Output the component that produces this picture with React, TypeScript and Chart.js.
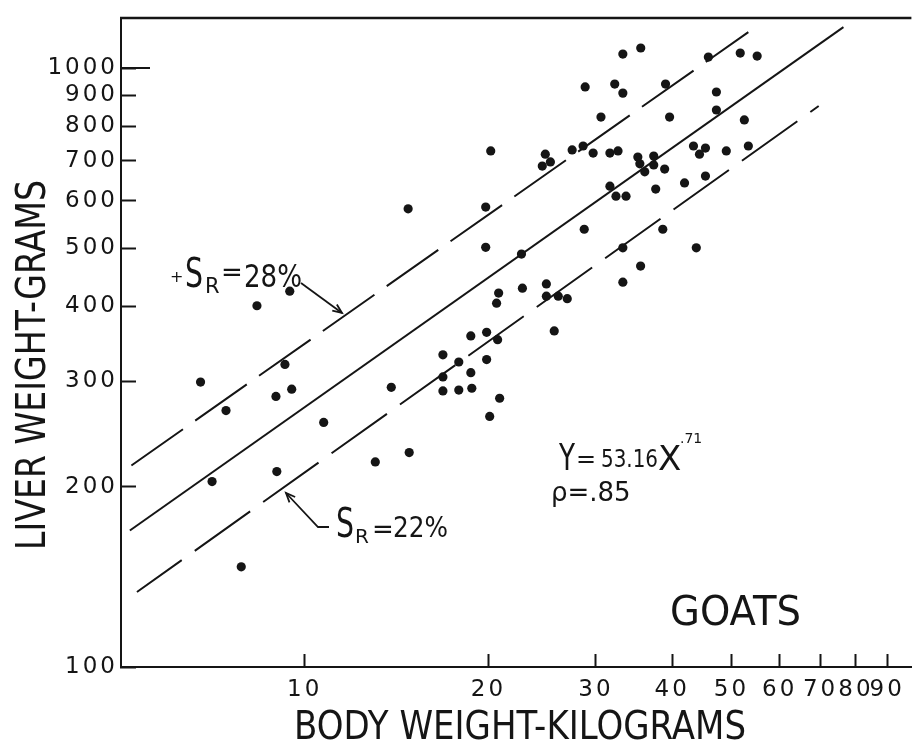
import React, { useEffect, useRef } from "react";
import { Chart, registerables } from "chart.js";

Chart.register(...registerables);

// ---- data (goats: body weight kg vs liver weight g) ----
const bodyWeightKg = [
  6.75, 7.43, 8.35, 9.45, 9.28, 8.97, 9.52, 10.74, 7.05, 9.0, 7.87, 13.86, 13.05, 14.83, 14.77,
  16.84, 16.84, 16.84, 17.88, 17.88, 18.71, 18.78, 18.71, 19.86, 20.7, 19.86, 20.86, 20.09,
  19.79, 19.79, 20.17, 22.65, 20.78, 20.62, 22.73, 24.88, 24.88, 26.02, 26.92, 25.63,
  33.2, 35.52, 45.84, 51.7, 55.1, 28.8, 32.2, 33.2, 39.0, 47.25, 30.57, 39.6, 47.25, 52.5,
  24.78, 24.5, 25.26, 27.42, 28.58, 29.68, 31.62, 32.6, 35.13, 35.4, 36.06, 37.3, 37.3, 38.87,
  37.58, 41.9, 43.34, 44.33, 45.34, 49.05, 53.3, 45.34, 31.62, 32.35, 33.6, 28.7, 38.6, 33.2,
  43.8, 35.5, 33.2,
];
const liverWeightG = [
  299, 268, 401, 424, 320, 283, 291, 256, 204, 212, 147, 293, 220, 228, 582,
  332, 305, 289, 323, 290, 310, 292, 357, 362, 352, 326, 281, 262,
  586, 502, 727, 489, 421, 405, 429, 436, 416, 416, 412, 364,
  1055, 1080, 1043, 1059, 1047, 930, 940, 908, 940, 912, 828, 828, 851, 819,
  718, 686, 697, 730, 741, 721, 721, 727, 710, 692, 671, 713, 689, 678,
  628, 643, 741, 718, 735, 727, 741, 660, 635, 611, 611, 538, 538, 501,
  501, 467, 439,
];

// regression line Y = 53.16 X^.71 and the two S_R bands (end points)
const fitLineX = [5.17, 76.3];
const fitLineY = [169, 1170];
const upperBandX = [5.2, 53.3];
const upperBandY = [217, 1148];
const lowerBandX = [5.31, 69.5];
const lowerBandY = [133.4, 864];

const xTickValues = [10, 20, 30, 40, 50, 60, 70, 80, 90];
const yTickValues = [100, 200, 300, 400, 500, 600, 700, 800, 900, 1000];

const X_MIN = 5;
const X_MAX = 98.6;
const Y_MIN = 100;
const Y_MAX = 1212;

const INK = "#151515";
const FONT = '"DejaVu Sans", "Liberation Sans", sans-serif';

const toXY = (xs: number[], ys: number[]) => xs.map((x, i) => ({ x, y: ys[i] }));

function drawText(
  ctx: CanvasRenderingContext2D,
  s: string,
  x: number,
  y: number,
  size: number,
  maxWidth?: number,
  align: CanvasTextAlign = "left"
) {
  ctx.font = `${size}px ${FONT}`;
  ctx.textAlign = align;
  ctx.textBaseline = "alphabetic";
  if (maxWidth) ctx.fillText(s, x, y, maxWidth);
  else ctx.fillText(s, x, y);
}

function drawArrow(ctx: CanvasRenderingContext2D, pts: number[][]) {
  ctx.beginPath();
  ctx.moveTo(pts[0][0], pts[0][1]);
  for (let i = 1; i < pts.length; i++) ctx.lineTo(pts[i][0], pts[i][1]);
  ctx.stroke();
  const [px, py] = pts[pts.length - 2];
  const [tx, ty] = pts[pts.length - 1];
  const a = Math.atan2(ty - py, tx - px);
  const L = 10;
  ctx.beginPath();
  ctx.moveTo(tx - L * Math.cos(a - 0.4), ty - L * Math.sin(a - 0.4));
  ctx.lineTo(tx, ty);
  ctx.lineTo(tx - L * Math.cos(a + 0.4), ty - L * Math.sin(a + 0.4));
  ctx.stroke();
}

const spacingPlugin = {
  id: "tickLetterSpacing",
  beforeDraw(chart: any) {
    try {
      (chart.ctx as any).letterSpacing = "3px";
    } catch (e) {
      /* not supported */
    }
  },
};

const annotationPlugin = {
  id: "goatAnnotations",
  afterDraw(chart: any) {
    const { ctx, chartArea, scales } = chart;
    try {
      (ctx as any).letterSpacing = "0px";
    } catch (e) {
      /* not supported */
    }
    ctx.save();
    ctx.strokeStyle = INK;
    ctx.fillStyle = INK;
    ctx.lineCap = "butt";

    // top frame line
    ctx.lineWidth = 2.5;
    ctx.beginPath();
    ctx.moveTo(chartArea.left - 1, chartArea.top);
    ctx.lineTo(chartArea.right, chartArea.top);
    ctx.stroke();

    // longer major tick at 1000
    const y1000 = scales.y.getPixelForValue(1000);
    ctx.lineWidth = 2;
    ctx.beginPath();
    ctx.moveTo(chartArea.left, y1000);
    ctx.lineTo(chartArea.left + 29, y1000);
    ctx.stroke();

    // axis titles
    drawText(ctx, "BODY WEIGHT-KILOGRAMS", 520, 739, 39, 452, "center");
    ctx.save();
    ctx.translate(45, 365);
    ctx.rotate(-Math.PI / 2);
    drawText(ctx, "LIVER WEIGHT-GRAMS", 0, 0, 40, 370, "center");
    ctx.restore();

    // + S_R = 28%
    drawText(ctx, "+", 170, 282, 16);
    drawText(ctx, "S", 185, 287, 40, 18);
    drawText(ctx, "R", 205, 293, 21);
    drawText(ctx, "=", 221, 281, 26);
    drawText(ctx, "28%", 244, 287, 32, 58);
    ctx.lineWidth = 1.8;
    drawArrow(ctx, [
      [301, 283],
      [342, 313],
    ]);

    // S_R = 22%
    drawText(ctx, "S", 336, 537, 40, 18);
    drawText(ctx, "R", 355, 543, 20);
    drawText(ctx, "=", 372, 538, 26);
    drawText(ctx, "22%", 393, 537, 28, 55);
    drawArrow(ctx, [
      [329, 527],
      [318, 527],
      [286, 493],
    ]);

    // regression equation
    drawText(ctx, "Y", 559, 470, 37, 16);
    drawText(ctx, "=", 576, 467, 24);
    drawText(ctx, "53.16", 601, 467, 24, 57);
    drawText(ctx, "X", 658, 470, 34, 24);
    drawText(ctx, ".71", 680, 443, 14);
    drawText(ctx, "\u03C1=.85", 551, 501, 26, 82);

    // species label
    drawText(ctx, "GOATS", 670, 625, 40, 131);

    ctx.restore();
  },
};

export default function App() {
  const ref = useRef<HTMLCanvasElement | null>(null);

  useEffect(() => {
    if (!ref.current) return;
    const chart = new Chart(ref.current, {
      type: "scatter",
      data: {
        datasets: [
          {
            label: "Goats",
            data: toXY(bodyWeightKg, liverWeightG),
            pointRadius: 4.6,
            pointBackgroundColor: INK,
            pointBorderWidth: 0,
            showLine: false,
          },
          {
            label: "Y = 53.16 X^.71",
            data: toXY(fitLineX, fitLineY),
            showLine: true,
            borderColor: INK,
            borderWidth: 2,
            pointRadius: 0,
          },
          {
            label: "S_R = 28%",
            data: toXY(upperBandX, upperBandY),
            showLine: true,
            borderColor: INK,
            borderWidth: 2,
            borderDash: [63, 15],
            pointRadius: 0,
          },
          {
            label: "S_R = 22%",
            data: toXY(lowerBandX, lowerBandY),
            showLine: true,
            borderColor: INK,
            borderWidth: 2,
            borderDash: [68, 16],
            borderDashOffset: 13,
            pointRadius: 0,
          },
        ],
      },
      options: {
        animation: false,
        responsive: false,
        devicePixelRatio: 1,
        layout: { padding: { top: 18, left: 0, right: 0, bottom: 0 } },
        plugins: {
          legend: { display: false },
          tooltip: { enabled: false },
        },
        scales: {
          x: {
            type: "logarithmic",
            position: "bottom",
            min: X_MIN,
            max: X_MAX,
            afterBuildTicks: (s: any) => {
              s.ticks = xTickValues.map((v) => ({ value: v }));
            },
            afterFit: (s: any) => {
              s.height = 74;
              s.paddingLeft = 0;
              s.paddingRight = 0;
            },
            ticks: {
              autoSkip: false,
              maxRotation: 0,
              minRotation: 0,
              padding: 22,
              color: INK,
              font: { family: FONT, size: 23 },
              callback: (v: any) => String(v),
            },
            grid: {
              drawOnChartArea: false,
              drawTicks: true,
              tickLength: -13,
              tickColor: INK,
              tickWidth: 2,
            },
            border: { display: true, color: INK, width: 2 },
          },
          y: {
            type: "logarithmic",
            position: "left",
            min: Y_MIN,
            max: Y_MAX,
            afterBuildTicks: (s: any) => {
              s.ticks = yTickValues.map((v) => ({ value: v }));
            },
            afterFit: (s: any) => {
              s.width = 121;
              s.paddingTop = 0;
              s.paddingBottom = 0;
            },
            ticks: {
              autoSkip: false,
              padding: 18,
              color: INK,
              font: { family: FONT, size: 23 },
              callback: (v: any) => String(v),
            },
            grid: {
              drawOnChartArea: false,
              drawTicks: true,
              tickLength: -15,
              tickColor: INK,
              tickWidth: 2,
            },
            border: { display: true, color: INK, width: 2 },
          },
        },
      },
      plugins: [spacingPlugin, annotationPlugin],
    } as any);
    return () => chart.destroy();
  }, []);

  return (
    <div style={{ position: "fixed", left: 0, top: 0, width: 916, height: 741, background: "#fff" }}>
      <canvas ref={ref} width={916} height={741} style={{ display: "block", width: 916, height: 741 }} />
    </div>
  );
}
